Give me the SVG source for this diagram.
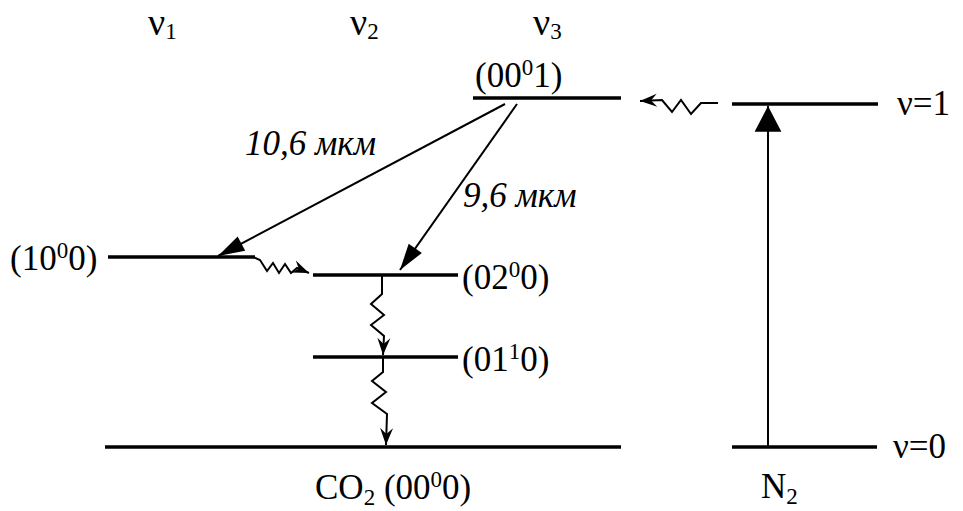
<svg xmlns="http://www.w3.org/2000/svg" width="963" height="511" viewBox="0 0 963 511">
<defs>
<style>
.t{font-family:"Liberation Serif","Times New Roman",serif;font-size:35px;fill:#000}
.it{font-family:"Liberation Serif","DejaVu Serif",serif;font-style:italic}
.sm{font-size:23px}
.nu{font-size:38px}
.lvl{stroke:#000;stroke-width:3.5;fill:none}
.arr{stroke:#000;stroke-width:2;fill:none}
.wav{stroke:#000;stroke-width:2;fill:none;stroke-linejoin:miter}
</style>
<marker id="ah" markerUnits="userSpaceOnUse" markerWidth="30" markerHeight="20" viewBox="-24 -8 26 16" refX="0" refY="0" orient="auto">
<path d="M0,0 L-23,-7 L-23,7 Z" fill="#000"/>
</marker>
<marker id="bh" markerUnits="userSpaceOnUse" markerWidth="30" markerHeight="30" viewBox="-26 -14 28 28" refX="0" refY="0" orient="auto">
<path d="M0,0 L-24,-12.5 L-24,12.5 Z" fill="#000"/>
</marker>
<marker id="wh" markerUnits="userSpaceOnUse" markerWidth="22" markerHeight="16" viewBox="-20 -8 22 16" refX="0" refY="0" orient="auto">
<path d="M0,0 L-17,-6.5 L-11,0 L-17,6.5 Z" fill="#000"/>
</marker>
</defs>
<rect width="963" height="511" fill="#fff"/>

<g id="headers">
<text class="t nu" x="148" y="35">ν<tspan class="sm" dy="4">1</tspan></text>
<text class="t nu" x="350" y="35">ν<tspan class="sm" dy="4">2</tspan></text>
<text class="t nu" x="533" y="35">ν<tspan class="sm" dy="4">3</tspan></text>
</g>

<g id="level-0001">
<line class="lvl" x1="473" y1="98" x2="621" y2="98"/>
<text class="t" x="475" y="87">(00<tspan class="sm" dy="-12">0</tspan><tspan dy="12">1)</tspan></text>
</g>

<g id="level-1000">
<line class="lvl" x1="108" y1="257" x2="255" y2="257"/>
<text class="t" x="10" y="270">(10<tspan class="sm" dy="-12">0</tspan><tspan dy="12">0)</tspan></text>
</g>

<g id="level-0200">
<line class="lvl" x1="313" y1="275" x2="458" y2="275"/>
<text class="t" x="462" y="289">(02<tspan class="sm" dy="-12">0</tspan><tspan dy="12">0)</tspan></text>
</g>

<g id="level-0110">
<line class="lvl" x1="313" y1="357" x2="458" y2="357"/>
<text class="t" x="462" y="371">(01<tspan class="sm" dy="-12">1</tspan><tspan dy="12">0)</tspan></text>
</g>

<g id="level-0000">
<line class="lvl" x1="105" y1="447" x2="621" y2="447"/>
<text class="t" x="315" y="499">CO<tspan class="sm" dy="6">2</tspan><tspan dy="-6"> (00</tspan><tspan class="sm" dy="-12">0</tspan><tspan dy="12">0)</tspan></text>
</g>

<g id="n2-v1">
<line class="lvl" x1="732" y1="104" x2="878" y2="104"/>
<text class="t" x="897" y="115">ν=1</text>
</g>

<g id="n2-v0">
<line class="lvl" x1="732" y1="447" x2="877" y2="447"/>
<text class="t" x="893" y="458">ν=0</text>
<text class="t" x="761" y="498">N<tspan class="sm" dy="6">2</tspan></text>
</g>

<g id="connectors">
<line class="arr" x1="505" y1="104" x2="218" y2="256" marker-end="url(#ah)"/>
<line class="arr" x1="517" y1="104" x2="400" y2="270" marker-end="url(#ah)"/>
<line class="arr" x1="768" y1="447" x2="768" y2="106" marker-end="url(#bh)"/>
<path class="wav" d="M718,103 L701,103 L691,114 L681,100 L672,112 L662,100 L640,101" marker-end="url(#wh)"/>
<path class="wav" d="M253,257 L260,260 L267,271 L273,263 L279,273 L285,264 L291,273 L297,268 L309,273" marker-end="url(#wh)"/>
<path class="wav" d="M382,276 L382,294 L371,304 L384,315 L371,325 L384,336 L383,355" marker-end="url(#wh)"/>
<path class="wav" d="M383,358 L383,372 L372,381 L386,392 L372,403 L387,414 L386,445" marker-end="url(#wh)"/>
</g>

<g id="labels">
<text class="t it" x="245" y="155">10,6 мкм</text>
<text class="t it" x="463" y="207">9,6 мкм</text>
</g>
</svg>
